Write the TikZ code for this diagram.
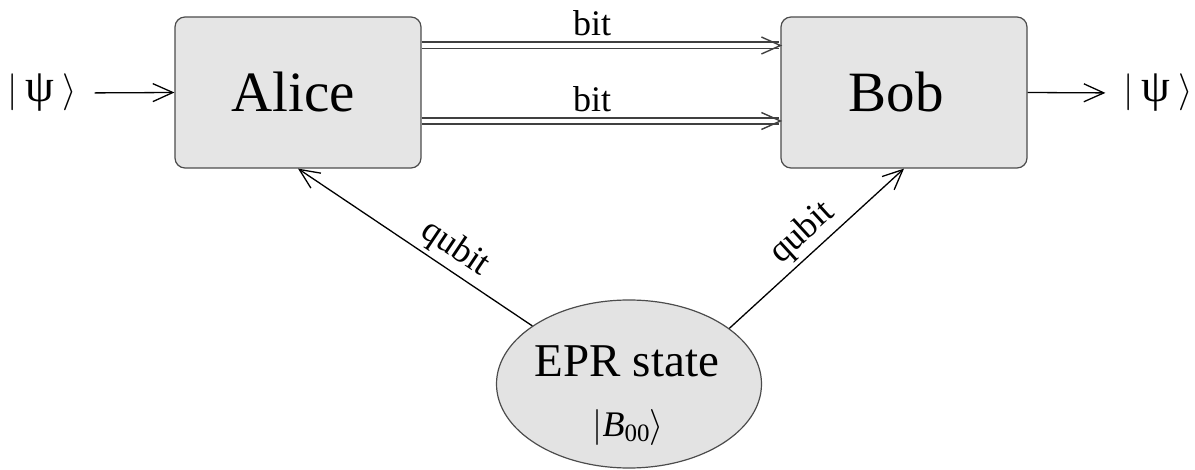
\documentclass[tikz,border=0pt]{standalone}
\usepackage{fontspec}
\setmainfont{Liberation Serif}
\usetikzlibrary{arrows.meta,shapes.geometric}
% a math delimiter drawn at 10pt and magnified to the wanted size
\newcommand{\mathglyph}[2]{\scalebox{#1}{\fontsize{10}{12}\selectfont$#2$}}
\begin{document}
\begin{tikzpicture}[x=1pt,y=-1pt,
  party/.style={draw=black!70, fill=black!10, line width=1.2pt, rounded corners=10pt,
    minimum width=246pt, minimum height=151pt, inner sep=0pt,
    font=\fontsize{57}{60}\selectfont},
  source/.style={ellipse, draw=black!70, fill=black!11, line width=1.2pt,
    minimum width=265pt, minimum height=168pt, inner sep=0pt},
  ket/.style={font=\fontsize{46}{50}\selectfont, inner sep=0pt},
  srctext/.style={font=\fontsize{47}{50}\selectfont, inner sep=0pt, anchor=base},
  srcket/.style={font=\fontsize{36}{42}\selectfont, inner sep=0pt, anchor=base},
  qarrow/.style={-{Straight Barb[length=20pt,width=18pt]}, line width=1.3pt},
  cline/.style={draw=black!75, line width=1.7pt, double=white, double distance=4.6pt},
  barb/.style={draw=black!75, line width=1.4pt},
  lbl/.style={font=\fontsize{36}{40}\selectfont, inner sep=0pt}
]
\useasboundingbox (0,0) rectangle (1195,470);

% the two parties and the shared entangled source
\node[party] (alice) at (298,92.5) {Alice\hspace*{10pt}};
\node[party] (bob) at (904,92.5) {Bob\hspace*{16pt}};
\node[source] (epr) at (629,384) {};
\node[srctext] (eprname) at (627,377) {EPR state};
\node[srcket] (eprket) at (628,437)
  {\mathglyph{3.6}{|}\textit{B}\raisebox{-5pt}{\fontsize{25}{28}\selectfont 00}\mathglyph{3.6}{\rangle}};

% input and output states
\node[ket] (psiin) at (42,93) {\mathglyph{3.7}{|}\,ψ\,\mathglyph{3.7}{\rangle}};
\node[ket] (psiout) at (1158,93) {\mathglyph{3.7}{|}\,ψ\,\mathglyph{3.7}{\rangle}};

\draw[qarrow, shorten <=18pt] (psiin.east) -- (alice.west);
\draw[qarrow, shorten >=18pt] (bob.east) -- (psiout.west);

% classical channels: double lines ending in an open barb
\coordinate (top) at ([yshift=47pt]bob.west);
\coordinate (low) at ([yshift=-28.5pt]bob.west);
\draw[cline, shorten >=1pt] ([yshift=47pt]alice.east) -- (top)
  node[lbl, pos=0.475, anchor=base, yshift=10pt] {bit};
\draw[barb] (top) ++(-19pt,8.5pt) -- (top) -- ++(-19pt,-8.5pt);
\draw[cline, shorten >=1pt] ([yshift=-28.5pt]alice.east) -- (low)
  node[lbl, pos=0.475, anchor=base, yshift=9pt] {bit};
\draw[barb] (low) ++(-19pt,8.5pt) -- (low) -- ++(-19pt,-8.5pt);

% quantum channels from the source
\draw[qarrow] (epr.149) -- (alice.south)
  node[lbl, pos=0.38, sloped, above=4pt] {qubit};
\draw[qarrow] (epr.29) -- (bob.south)
  node[lbl, pos=0.5, sloped, above=4pt] {qubit};
\end{tikzpicture}
\end{document}
